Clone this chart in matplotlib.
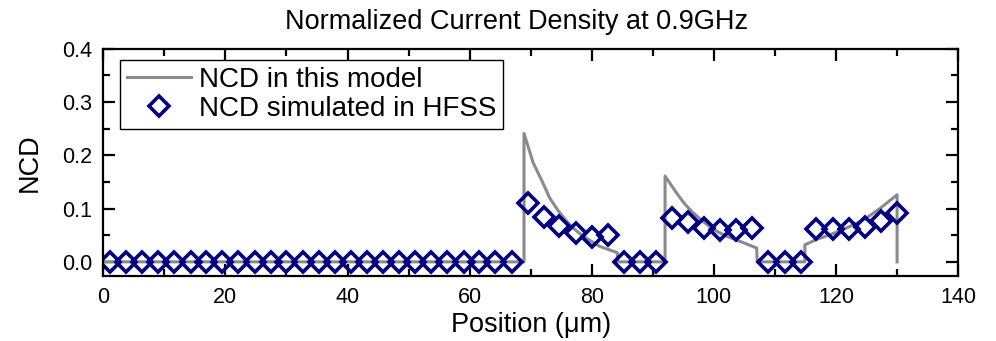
import numpy as np
import matplotlib
matplotlib.use("Agg")
import matplotlib.pyplot as plt
from matplotlib.ticker import MultipleLocator, FormatStrFormatter

plt.rcParams['font.family'] = ['Liberation Sans', 'DejaVu Sans']

# === model curve (vertical jumps at the conductor edges) ===
model_x = [0, 68.9, 68.9, 70.4, 72.0, 73.1, 74.5, 75.9, 77.2, 78.6, 80.0, 81.3, 83.5, 84.2, 84.2,
           92.0, 92.0, 93.9, 95.2, 96.6, 98.0, 99.3, 100.7, 102.1, 104.8, 107.0, 107.1,
           114.9, 114.9, 116.8, 119.5, 122.0, 124.7, 127.3, 130.0, 130.0]
model_y = [0, 0, 0.241, 0.186, 0.148, 0.120, 0.096, 0.076, 0.061, 0.048, 0.038, 0.029, 0.020, 0.017, 0,
           0, 0.161, 0.129, 0.109, 0.092, 0.078, 0.066, 0.056, 0.048, 0.036, 0.026, 0,
           0, 0.032, 0.042, 0.053, 0.065, 0.080, 0.101, 0.126, 0]

# === HFSS samples ===
hfss_x = [1.1, 3.7, 6.4, 9.0, 11.6, 14.3, 16.9, 19.5, 22.1, 24.8, 27.4, 30.0, 32.7, 35.3, 37.9,
          40.6, 43.2, 45.8, 48.4, 51.1, 53.7, 56.3, 59.0, 61.6, 64.2, 66.9,
          69.5, 72.1, 74.7, 77.4, 80.0, 82.6, 85.3, 87.9, 90.5,
          93.2, 95.8, 98.4, 101.0, 103.7, 106.3, 108.9, 111.6, 114.2,
          116.8, 119.5, 122.1, 124.7, 127.3, 130.0]
hfss_y = [0.0] * 26 + [0.111, 0.085, 0.068, 0.054, 0.047, 0.050, 0.0, 0.0, 0.0,
                       0.082, 0.075, 0.064, 0.060, 0.059, 0.063, 0.0, 0.0, 0.0,
                       0.062, 0.061, 0.062, 0.066, 0.076, 0.091]

fig = plt.figure(figsize=(9.96, 3.41), dpi=100)
ax = fig.add_axes([0.1037, 0.1915, 0.8583, 0.6655])

ax.plot(model_x, model_y, color='#8a8a8a', lw=2.2, label='NCD in this model')
ax.plot(hfss_x, hfss_y, ls='none', marker='D', ms=10, mfc='none', mec='#000080', mew=2.6,
        label='NCD simulated in HFSS')

ax.set_xlim(0, 140)
ax.set_ylim(-0.026, 0.4)
ax.xaxis.set_major_locator(MultipleLocator(20))
ax.xaxis.set_minor_locator(MultipleLocator(10))
ax.yaxis.set_major_locator(MultipleLocator(0.1))
ax.yaxis.set_minor_locator(MultipleLocator(0.05))
ax.yaxis.set_major_formatter(FormatStrFormatter('%.1f'))
ax.tick_params(which='both', direction='in', top=True, right=True, width=1.6, labelsize=15.5)
ax.tick_params(which='major', length=8.5, pad=8)
ax.tick_params(which='minor', length=5)
for s in ax.spines.values():
    s.set_linewidth(1.6)

ax.set_xlabel('Position (\u03bcm)', fontsize=19.5, labelpad=3)
ax.set_ylabel('NCD', fontsize=19.5, labelpad=14)
ax.set_title('Normalized Current Density at 0.9GHz', fontsize=19.5, pad=14, x=0.483)

leg = ax.legend(loc='upper left', bbox_to_anchor=(0.0195, 0.95), fontsize=20, fancybox=False,
                framealpha=1, edgecolor='black', borderpad=0.25, handlelength=2.3,
                handletextpad=0.3, labelspacing=0.1, borderaxespad=0)
leg.get_frame().set_linewidth(1.0)

plt.savefig('out.png', dpi=100)
